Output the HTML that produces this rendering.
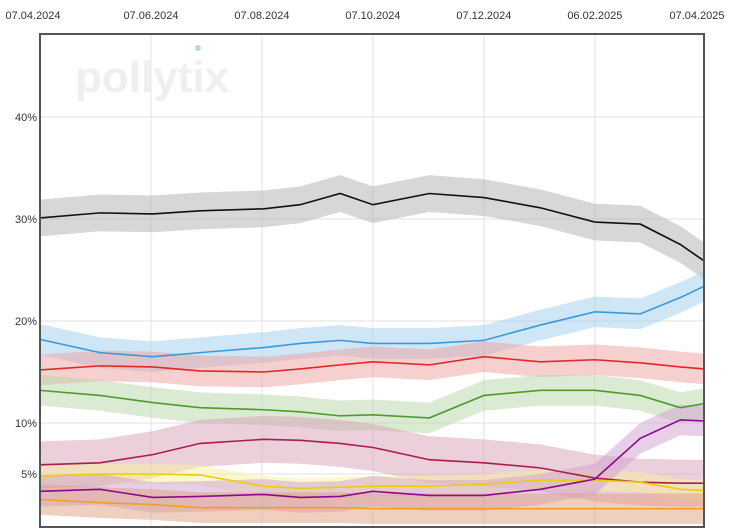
<!DOCTYPE html>
<html><head><meta charset="utf-8"><style>
body{margin:0;background:#fff;}
svg{display:block;font-family:"Liberation Sans",sans-serif;}
</style></head><body>
<svg id="c" width="743" height="529">
<text x="75" y="92" font-size="44" font-weight="bold" fill="#efefef">pollytix</text>
<circle cx="198" cy="48" r="3" fill="#b8dccc"/>
</svg>
<script>
const days=[0,33,62,88,123,143,165,183,214,244,275,305,330,352,365];
const xTickLabels=["07.04.2024","07.06.2024","07.08.2024","07.10.2024","07.12.2024","06.02.2025","07.04.2025"];
const xTickDays=[0,61,122,183,244,305,365];
const yTicks=[5,10,20,30,40];
const cdu=[30.1,30.6,30.5,30.8,31.0,31.4,32.5,31.4,32.5,32.1,31.1,29.7,29.5,27.5,25.9];
const afd=[18.2,16.9,16.5,16.9,17.4,17.8,18.1,17.8,17.8,18.1,19.6,20.9,20.7,22.3,23.4];
const spd=[15.2,15.6,15.5,15.1,15.0,15.3,15.7,16.0,15.7,16.5,16.0,16.2,15.9,15.5,15.3];
const gruene=[13.2,12.7,12.0,11.5,11.3,11.1,10.7,10.8,10.5,12.7,13.2,13.2,12.7,11.5,11.9];
const bsw=[5.9,6.1,6.9,8.0,8.4,8.3,8.0,7.6,6.4,6.1,5.6,4.6,4.2,4.1,4.1];
const fw=[4.8,5.0,5.0,4.9,3.8,3.6,3.7,3.8,3.8,4.0,4.4,4.4,4.2,3.5,3.4];
const linke=[3.3,3.5,2.7,2.8,3.0,2.7,2.8,3.3,2.9,2.9,3.5,4.5,8.5,10.3,10.2];
const fdp=[2.5,2.2,2.0,1.7,1.7,1.7,1.7,1.6,1.6,1.6,1.6,1.6,1.6,1.6,1.6];
const series=[
 {n:"cdu",v:cdu,c:"#111",b:"#b0b0b0",w:1.8},
 {n:"afd",v:afd,c:"#3a9ad9",b:"#9fcdf0",w:1.5},
 {n:"spd",v:spd,c:"#e02828",b:"#eea0a0",w:1.5},
 {n:"gruene",v:gruene,c:"#4e9a2e",b:"#b8d8a8",w:1.5},
 {n:"bsw",v:bsw,c:"#a8204a",b:"#d8a0b8",w:2.3},
 {n:"freie-waehler",v:fw,c:"#e8d000",b:"#f8f0a0",w:1},
 {n:"linke",v:linke,c:"#8a0a8a",b:"#d0a0d0",w:1.5},
 {n:"fdp",v:fdp,c:"#f0a020",b:"#e0a080",w:1.5}
];
const X=d=>40+d*664/365, Y=v=>525-v*10.2;
const svg=document.getElementById('c'), NS="http://www.w3.org/2000/svg";
function mk(t,a){const e=document.createElementNS(NS,t);for(const k in a)e.setAttribute(k,a[k]);svg.appendChild(e);return e;}
yTicks.forEach(t=>{
 const l=mk('line',{x1:40,x2:704,y1:Y(t),y2:Y(t),stroke:"#e2e2e2"});
 
 
 const tx=mk('text',{x:37,y:Y(t)+4,'text-anchor':'end','font-size':11,fill:'#333'});
 tx.textContent=t+"%";
 
 
});
xTickDays.forEach((d,i)=>{
 if(i>0&&i<xTickDays.length-1){const l=mk('line',{x1:X(d),x2:X(d),y1:34,y2:527,stroke:"#e2e2e2"});
 
 }
 const tx=mk('text',{x:i==0?33:(i==xTickDays.length-1?697:X(d)),y:19,'text-anchor':'middle','font-size':11,fill:'#333'});
 tx.textContent=xTickLabels[i];
 
 
});
series.forEach(s=>{
 const up=days.map((d,i)=>X(d)+","+Y(s.v[i]+s.w)), dn=days.map((d,i)=>X(d)+","+Y(Math.max(0,s.v[i]-s.w))).reverse();
 const p=mk('polygon',{points:up.concat(dn).join(" "),fill:s.b,opacity:0.5});
 
 
});
series.forEach(s=>{
 const p=mk('polyline',{points:days.map((d,i)=>X(d)+","+Y(s.v[i])).join(" "),fill:"none",stroke:s.c,'stroke-width':1.6});
 
 
});
const f=mk('rect',{x:40,y:34,width:664,height:493,fill:"none",stroke:"#555",'stroke-width':2});


</script>
</body></html>
